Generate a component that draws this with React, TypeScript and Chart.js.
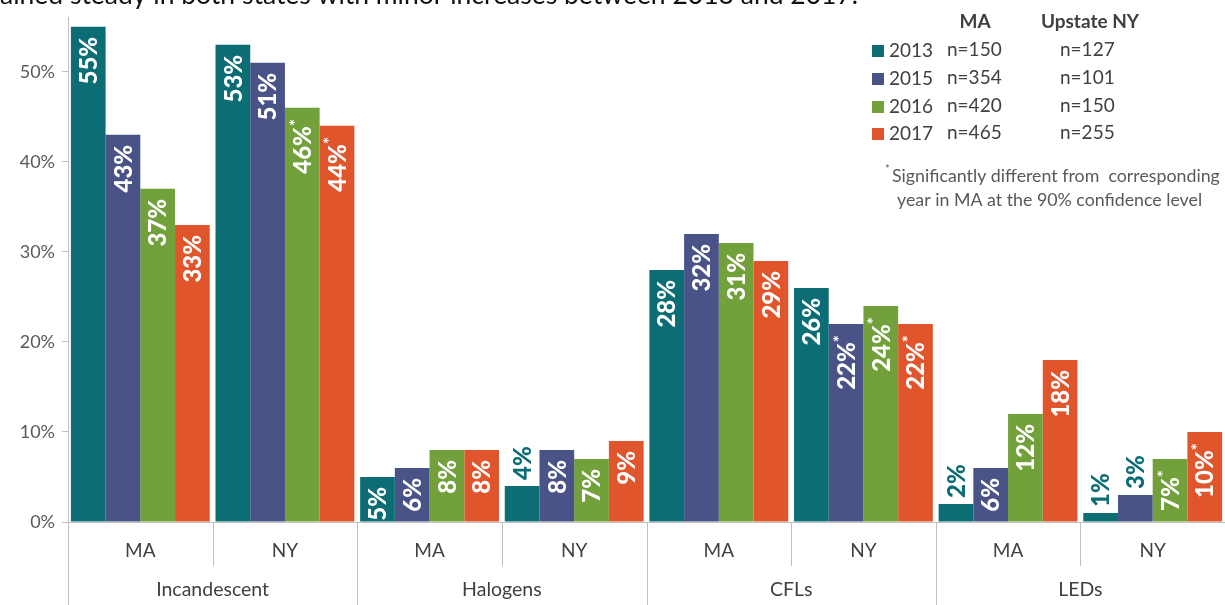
import React, { useEffect, useRef } from "react";
import { Chart, registerables } from "chart.js";

Chart.register(...registerables);

const subCategories = ["MA", "NY", "MA", "NY", "MA", "NY", "MA", "NY"];
const groupLabels = ["Incandescent", "Halogens", "CFLs", "LEDs"];
const years = ["2013", "2015", "2016", "2017"];
const values2013 = [55, 53, 5, 4, 28, 26, 2, 1];
const values2015 = [43, 51, 6, 8, 32, 22, 6, 3];
const values2016 = [37, 46, 8, 7, 31, 24, 12, 7];
const values2017 = [33, 44, 8, 9, 29, 22, 18, 10];
const star2013 = [0, 0, 0, 0, 0, 0, 0, 0];
const star2015 = [0, 0, 0, 0, 0, 1, 0, 0];
const star2016 = [0, 1, 0, 0, 0, 1, 0, 1];
const star2017 = [0, 1, 0, 0, 0, 1, 0, 1];
const nMA = ["n=150", "n=354", "n=420", "n=465"];
const nNY = ["n=127", "n=101", "n=150", "n=255"];
const titleText = "ained steady in both states with minor increases between 2013 and 2017.";
const footnote1 = "Significantly different from  corresponding";
const footnote2 = "year in MA at the 90% confidence level";

const colors = ["#0c6e74", "#4a5387", "#72a13b", "#e1552c"];
const FONT = "Lato, 'Open Sans', sans-serif";

export default function App() {
  const ref = useRef<HTMLCanvasElement>(null);

  useEffect(() => {
    const canvas = ref.current;
    if (!canvas) return;
    const seriesValues = [values2013, values2015, values2016, values2017];
    const seriesStars = [star2013, star2015, star2016, star2017];

    const decorPlugin = {
      id: "decor",
      afterDraw(chart: any) {
        const ctx = chart.ctx;
        const x = chart.scales.x;
        const area = chart.chartArea;
        const base = area.bottom;
        ctx.save();
        // title (clipped at top)
        ctx.fillStyle = "#111";
        ctx.font = `26.5px ${FONT}`;
        ctx.textAlign = "left";
        ctx.textBaseline = "alphabetic";
        ctx.fillText(titleText, 0, 4);

        // x separators
        ctx.strokeStyle = "#bfbfbf";
        ctx.lineWidth = 1;
        for (let i = 0; i < subCategories.length; i++) {
          const bx = i === 0 ? area.left : (x.getPixelForValue(i - 1) + x.getPixelForValue(i)) / 2;
          const long = i % 2 === 0;
          ctx.beginPath();
          ctx.moveTo(Math.round(bx) + 0.5, base);
          ctx.lineTo(Math.round(bx) + 0.5, long ? 605 : 566);
          ctx.stroke();
        }
        // group labels
        ctx.fillStyle = "#404040";
        ctx.font = `19.5px ${FONT}`;
        ctx.textAlign = "center";
        ctx.textBaseline = "middle";
        for (let g = 0; g < groupLabels.length; g++) {
          const cx = (x.getPixelForValue(g * 2) + x.getPixelForValue(g * 2 + 1)) / 2;
          ctx.fillText(groupLabels[g], cx, 590);
        }

        // data labels
        chart.data.datasets.forEach((ds: any, di: number) => {
          const meta = chart.getDatasetMeta(di);
          meta.data.forEach((el: any, i: number) => {
            const v = seriesValues[di][i];
            const star = seriesStars[di][i] === 1;
            const txt = `${v}%`;
            const mainFont = `900 24px ${FONT}`;
            const starFont = `bold 17px ${FONT}`;
            ctx.font = mainFont;
            const wMain = ctx.measureText(txt).width;
            ctx.font = starFont;
            const wStar = star ? ctx.measureText("*").width + 1 : 0;
            const inside = v >= 5;
            ctx.save();
            if (inside) {
              ctx.translate(el.x, el.y + 10);
              ctx.rotate(-Math.PI / 2);
              ctx.fillStyle = "#ffffff";
              ctx.textBaseline = "middle";
              ctx.textAlign = "left";
              ctx.font = mainFont;
              ctx.fillText(txt, -(wMain + wStar), 1);
              if (star) {
                ctx.font = starFont;
                ctx.fillText("*", -wStar, -6);
              }
            } else {
              ctx.translate(el.x, el.y - 6);
              ctx.rotate(-Math.PI / 2);
              ctx.fillStyle = colors[0];
              ctx.textBaseline = "middle";
              ctx.textAlign = "left";
              ctx.font = mainFont;
              ctx.fillText(txt, 0, 1);
            }
            ctx.restore();
          });
        });

        // legend
        ctx.fillStyle = "#404040";
        ctx.textBaseline = "middle";
        ctx.font = `bold 19px ${FONT}`;
        ctx.textAlign = "center";
        ctx.fillText("MA", 975, 22);
        ctx.fillText("Upstate NY", 1090, 22);
        ctx.font = `19px ${FONT}`;
        const rowY = [50, 78, 106, 133];
        years.forEach((yr, k) => {
          const ry = rowY[k];
          ctx.fillStyle = colors[k];
          ctx.fillRect(872, ry - 5, 12, 12);
          ctx.fillStyle = "#404040";
          ctx.textAlign = "left";
          ctx.fillText(yr, 889, ry + 1);
          ctx.fillText(nMA[k], 947, ry);
          ctx.fillText(nNY[k], 1060, ry);
        });
        ctx.fillStyle = "#595959";
        ctx.font = `11px ${FONT}`;
        ctx.fillText("*", 885, 169);
        ctx.font = `17.8px ${FONT}`;
        ctx.fillText(footnote1, 892, 176);
        ctx.fillText(footnote2, 897, 200);
        ctx.restore();
      },
    };

    const chart = new Chart(canvas, {
      type: "bar",
      data: {
        labels: subCategories,
        datasets: years.map((yr, k) => ({
          label: yr,
          data: seriesValues[k],
          backgroundColor: colors[k],
          borderWidth: 0,
          categoryPercentage: 0.96,
          barPercentage: 1.0,
        })),
      },
      options: {
        animation: false,
        responsive: false,
        devicePixelRatio: 1,
        layout: { padding: { top: 17, right: 0, left: 0, bottom: 0 } },
        plugins: { legend: { display: false }, tooltip: { enabled: false } },
        scales: {
          x: {
            grid: { display: false, drawTicks: false },
            border: { display: true, color: "#bfbfbf" },
            ticks: { color: "#404040", font: { family: FONT, size: 19 }, padding: 17 },
            afterFit(scale: any) {
              scale.height = 83;
            },
          },
          y: {
            min: 0,
            max: 56,
            grid: { drawOnChartArea: false, drawTicks: true, tickLength: 6, color: "#bfbfbf" },
            border: { display: true, color: "#bfbfbf" },
            ticks: {
              stepSize: 10,
              includeBounds: false,
              padding: 7,
              color: "#595959",
              font: { family: FONT, size: 18 },
              callback: (v: any) => `${v}%`,
            },
            afterFit(scale: any) {
              scale.width = 68;
            },
          },
        },
      },
      plugins: [decorPlugin],
    });
    return () => chart.destroy();
  }, []);

  return (
    <div style={{ position: "fixed", left: 0, top: 0, width: 1225, height: 605, background: "#fff" }}>
      <canvas ref={ref} width={1225} height={605} style={{ display: "block" }} />
    </div>
  );
}
